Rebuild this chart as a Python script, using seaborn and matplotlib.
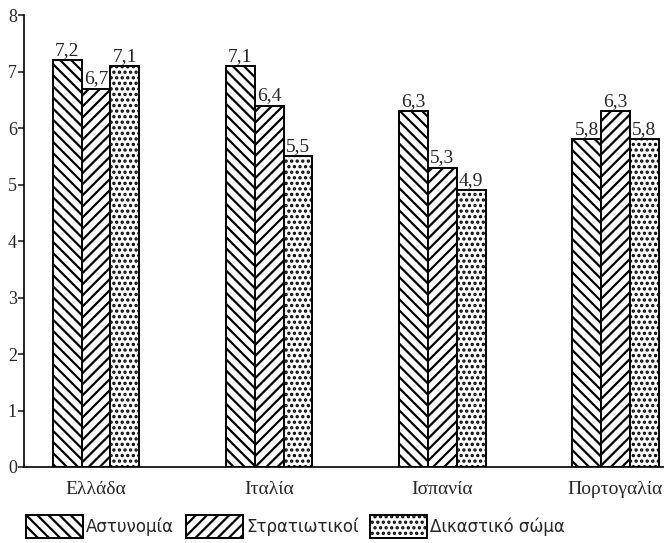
import matplotlib
matplotlib.use("Agg")
import matplotlib.pyplot as plt
import seaborn as sns
import pandas as pd
from matplotlib.patches import Patch

# Δεδομένα
countries = ["Ελλάδα", "Ιταλία", "Ισπανία", "Πορτογαλία"]
groups = ["Αστυνομία", "Στρατιωτικοί", "Δικαστικό σώμα"]
police = [7.2, 7.1, 6.3, 5.8]
military = [6.7, 6.4, 5.3, 6.3]
judiciary = [7.1, 5.5, 4.9, 5.8]
y_ticks = [0, 1, 2, 3, 4, 5, 6, 7, 8]

hatches = ["\\\\\\", "///", "..."]

df = pd.DataFrame({
    "country": countries * 3,
    "group": [g for g in groups for _ in countries],
    "value": police + military + judiciary,
})

sns.set_style("white")
plt.rcParams["font.family"] = ["Liberation Serif", "DejaVu Serif"]
plt.rcParams["hatch.linewidth"] = 1.6

fig = plt.figure(figsize=(6.64, 5.43), dpi=100)
ax = fig.add_axes([0.036, 0.14, 0.964, 0.832])

sns.barplot(data=df, x="country", y="value", hue="group", order=countries,
            hue_order=groups, width=0.5, gap=0, color="white",
            edgecolor="black", linewidth=1.4, legend=False, ax=ax,
            saturation=1)

for cont, h in zip(ax.containers, hatches):
    for bar in cont:
        bar.set_hatch(h)
        bar.set_facecolor("white")
        bar.set_edgecolor("black")
    ax.bar_label(cont, labels=[f"{v:.1f}".replace(".", ",") for v in cont.datavalues],
                 padding=1, fontsize=14)

ax.set_xlim(-0.416, 3.28)
ax.set_ylim(0, 8)
ax.set_yticks(y_ticks)
ax.tick_params(axis="y", direction="out", length=4, width=1.2, labelsize=13, pad=1, left=True)
ax.tick_params(axis="x", length=0, labelsize=14, pad=10)
ax.set_xlabel("")
ax.set_ylabel("")
for side in ["top", "right"]:
    ax.spines[side].set_visible(False)
for side in ["left", "bottom"]:
    ax.spines[side].set_linewidth(1.2)
    ax.spines[side].set_color("black")

handles = [Patch(facecolor="white", edgecolor="black", hatch=h, linewidth=1.4) for h in hatches]
fig.legend(handles, groups, loc="lower left", bbox_to_anchor=(0.017, -0.018), ncol=3,
           frameon=False, handlelength=3.4, handleheight=1.7, handletextpad=0.2,
           columnspacing=0.7, prop={"family": ["DejaVu Sans"], "size": 12})

fig.savefig("out.png", dpi=100)
